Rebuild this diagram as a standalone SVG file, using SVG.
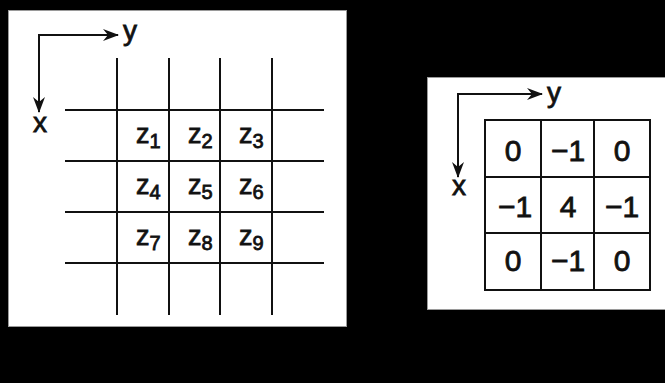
<svg xmlns="http://www.w3.org/2000/svg" width="665" height="383" viewBox="0 0 665 383">
  <style>
    .panel { fill: #ffffff; stroke: #9a9a9a; stroke-width: 1; }
    .grid { stroke: #111; stroke-width: 2; fill: none; }
    .axis { stroke: #111; stroke-width: 2; fill: none; }
    .lbl { font-family: "Liberation Sans", Arial, sans-serif; fill: #111; stroke: #111; stroke-width: 0.8; }
    .axl { font-size: 28px; }
    .zl { font-size: 27px; }
    .sub { font-size: 20px; }
    .num { font-size: 30px; text-anchor: middle; }
  </style>
  <defs>
    <marker id="arrow" viewBox="0 0 16 12" refX="15" refY="6" markerWidth="16" markerHeight="12" markerUnits="userSpaceOnUse" orient="auto">
      <path d="M0,0 L16,6 L0,12 L5,6 z" fill="#111"/>
    </marker>
  </defs>

  <rect x="0" y="0" width="665" height="383" fill="#000"/>

  <!-- Pixel neighbourhood z1..z9 -->
  <g id="neighbourhood">
    <rect class="panel" x="8.5" y="10.5" width="338" height="316"/>
    <g class="grid">
      <line x1="117" y1="58" x2="117" y2="315"/>
      <line x1="169" y1="58" x2="169" y2="315"/>
      <line x1="220" y1="58" x2="220" y2="315"/>
      <line x1="272" y1="58" x2="272" y2="315"/>
      <line x1="65" y1="110" x2="324" y2="110"/>
      <line x1="65" y1="161" x2="324" y2="161"/>
      <line x1="65" y1="212" x2="324" y2="212"/>
      <line x1="65" y1="263" x2="324" y2="263"/>
    </g>
    <text class="lbl axl" x="123" y="40">y</text>
    <text class="lbl axl" x="40" y="132" text-anchor="middle">x</text>
    <g class="lbl zl">
      <text x="136" y="143">z<tspan class="sub" dy="5">1</tspan></text>
      <text x="188" y="143">z<tspan class="sub" dy="5">2</tspan></text>
      <text x="239" y="143">z<tspan class="sub" dy="5">3</tspan></text>
      <text x="136" y="194">z<tspan class="sub" dy="5">4</tspan></text>
      <text x="188" y="194">z<tspan class="sub" dy="5">5</tspan></text>
      <text x="239" y="194">z<tspan class="sub" dy="5">6</tspan></text>
      <text x="136" y="245">z<tspan class="sub" dy="5">7</tspan></text>
      <text x="188" y="245">z<tspan class="sub" dy="5">8</tspan></text>
      <text x="239" y="245">z<tspan class="sub" dy="5">9</tspan></text>
    </g>
  </g>

  <!-- Laplacian mask -->
  <g id="mask">
    <rect class="panel" x="427.5" y="77.5" width="240" height="232"/>
    <g class="grid">
      <rect x="485" y="120" width="165" height="170"/>
      <line x1="541" y1="120" x2="541" y2="290"/>
      <line x1="594" y1="120" x2="594" y2="290"/>
      <line x1="485" y1="177" x2="650" y2="177"/>
      <line x1="485" y1="233" x2="650" y2="233"/>
    </g>
    <text class="lbl axl" x="547" y="102">y</text>
    <text class="lbl axl" x="459" y="195" text-anchor="middle">x</text>
    <g class="lbl num">
      <text x="513" y="161">0</text>
      <text x="568" y="161">−1</text>
      <text x="622" y="161">0</text>
      <text x="515" y="217">−1</text>
      <text x="568" y="217">4</text>
      <text x="622" y="217">−1</text>
      <text x="513" y="271">0</text>
      <text x="568" y="271">−1</text>
      <text x="622" y="271">0</text>
    </g>
  </g>

  <!-- Coordinate axes -->
  <g id="connectors">
    <line class="axis" x1="38" y1="35" x2="118" y2="35" marker-end="url(#arrow)"/>
    <line class="axis" x1="39" y1="34" x2="39" y2="112" marker-end="url(#arrow)"/>
    <line class="axis" x1="457" y1="94" x2="542" y2="94" marker-end="url(#arrow)"/>
    <line class="axis" x1="458" y1="93" x2="458" y2="177" marker-end="url(#arrow)"/>
  </g>
</svg>
